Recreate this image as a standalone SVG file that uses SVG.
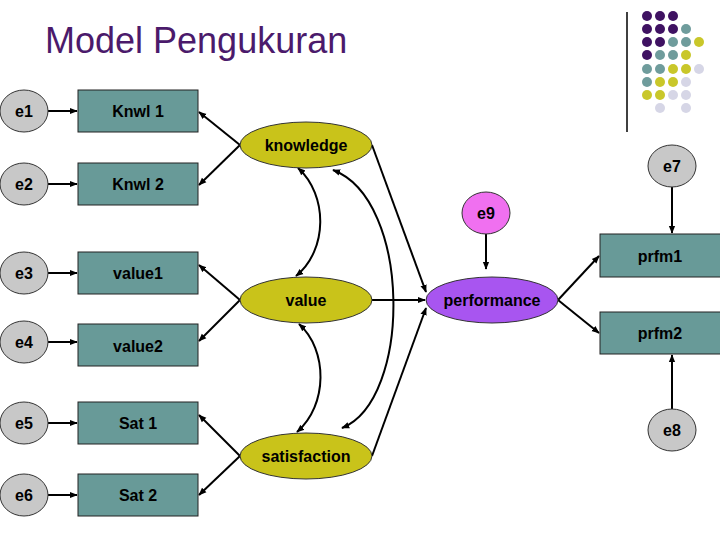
<svg xmlns="http://www.w3.org/2000/svg" width="720" height="540" viewBox="0 0 720 540">
<defs>
<style>
.t{font-family:"Liberation Sans",Arial,sans-serif;font-weight:bold;font-size:16px;fill:#000;text-anchor:middle;dominant-baseline:central}
.err{fill:#c8c8c8;stroke:#333;stroke-width:1}
.box{fill:#689a98;stroke:#222;stroke-width:1}
.lat{fill:#c9c31a;stroke:#333;stroke-width:1}
.c line,.c path{stroke:#000;stroke-width:2;fill:none}
.P{fill:#3f1262}.T{fill:#6f9c9c}.Y{fill:#c9c72a}.L{fill:#d6d6e6}
</style>
<marker id="a" viewBox="0 0 10 10" refX="9" refY="5" markerWidth="4" markerHeight="4" orient="auto-start-reverse"><path d="M0,1 L10,5 L0,9 z" fill="#000"/></marker>
</defs>
<rect width="720" height="540" fill="#fff"/>
<text x="45" y="53" font-family="Liberation Sans,Arial,sans-serif" font-size="36" fill="#4b1a6b">Model Pengukuran</text>
<line x1="627" y1="12" x2="627" y2="132" stroke="#000" stroke-width="1.5"/>
<g id="dots">
<circle class="P" cx="647" cy="16" r="5"/><circle class="P" cx="660" cy="16" r="5"/><circle class="P" cx="673" cy="16" r="5"/>
<circle class="P" cx="647" cy="29" r="5"/><circle class="P" cx="660" cy="29" r="5"/><circle class="P" cx="673" cy="29" r="5"/><circle class="T" cx="686" cy="29" r="5"/>
<circle class="P" cx="647" cy="42" r="5"/><circle class="P" cx="660" cy="42" r="5"/><circle class="T" cx="673" cy="42" r="5"/><circle class="T" cx="686" cy="42" r="5"/><circle class="Y" cx="699" cy="42" r="5"/>
<circle class="P" cx="647" cy="55" r="5"/><circle class="T" cx="660" cy="55" r="5"/><circle class="T" cx="673" cy="55" r="5"/><circle class="Y" cx="686" cy="55" r="5"/>
<circle class="T" cx="647" cy="69" r="5"/><circle class="T" cx="660" cy="69" r="5"/><circle class="Y" cx="673" cy="69" r="5"/><circle class="Y" cx="686" cy="69" r="5"/><circle class="L" cx="699" cy="69" r="5"/>
<circle class="T" cx="647" cy="82" r="5"/><circle class="Y" cx="660" cy="82" r="5"/><circle class="Y" cx="673" cy="82" r="5"/><circle class="L" cx="686" cy="82" r="5"/>
<circle class="Y" cx="647" cy="95" r="5"/><circle class="Y" cx="660" cy="95" r="5"/><circle class="L" cx="673" cy="95" r="5"/><circle class="L" cx="686" cy="95" r="5"/>
<circle class="L" cx="660" cy="108" r="5"/><circle class="L" cx="686" cy="108" r="5"/>
</g>
<g class="c" id="connectors">
<line x1="48" y1="111" x2="77" y2="111" marker-end="url(#a)"/>
<line x1="48" y1="184" x2="77" y2="184" marker-end="url(#a)"/>
<line x1="48" y1="273" x2="77" y2="273" marker-end="url(#a)"/>
<line x1="48" y1="342" x2="77" y2="342" marker-end="url(#a)"/>
<line x1="48" y1="423" x2="77" y2="423" marker-end="url(#a)"/>
<line x1="48" y1="495" x2="77" y2="495" marker-end="url(#a)"/>
<line x1="240" y1="145" x2="199" y2="112" marker-end="url(#a)"/>
<line x1="240" y1="145" x2="199" y2="185" marker-end="url(#a)"/>
<line x1="240" y1="300" x2="199" y2="265" marker-end="url(#a)"/>
<line x1="240" y1="300" x2="199" y2="341" marker-end="url(#a)"/>
<line x1="240" y1="456" x2="199" y2="415" marker-end="url(#a)"/>
<line x1="240" y1="456" x2="199" y2="495" marker-end="url(#a)"/>
<line x1="558" y1="300" x2="599" y2="256" marker-end="url(#a)"/>
<line x1="558" y1="300" x2="599" y2="333" marker-end="url(#a)"/>
<line x1="672" y1="187" x2="672" y2="233" marker-end="url(#a)"/>
<line x1="672" y1="409" x2="672" y2="355" marker-end="url(#a)"/>
<line x1="486" y1="234" x2="486" y2="269" marker-end="url(#a)"/>
<line x1="372" y1="145" x2="426" y2="292" marker-end="url(#a)"/>
<line x1="372" y1="300" x2="425" y2="300" marker-end="url(#a)"/>
<line x1="372" y1="456" x2="426" y2="308" marker-end="url(#a)"/>
<path d="M298,168 C328,195 328,250 296,276" marker-start="url(#a)" marker-end="url(#a)"/>
<path d="M299,324 C328,350 328,405 297,432" marker-start="url(#a)" marker-end="url(#a)"/>
<path d="M333,170 C412,200 412,400 342,428" marker-start="url(#a)" marker-end="url(#a)"/>
</g>
<g id="e1"><ellipse class="err" cx="24" cy="111" rx="24" ry="21"/><text class="t" x="24" y="111">e1</text></g>
<g id="e2"><ellipse class="err" cx="24" cy="184" rx="24" ry="21"/><text class="t" x="24" y="184">e2</text></g>
<g id="e3"><ellipse class="err" cx="24" cy="273" rx="24" ry="21"/><text class="t" x="24" y="273">e3</text></g>
<g id="e4"><ellipse class="err" cx="24" cy="342" rx="24" ry="21"/><text class="t" x="24" y="342">e4</text></g>
<g id="e5"><ellipse class="err" cx="24" cy="423" rx="24" ry="21"/><text class="t" x="24" y="423">e5</text></g>
<g id="e6"><ellipse class="err" cx="24" cy="495" rx="24" ry="21"/><text class="t" x="24" y="495">e6</text></g>
<g id="knwl1"><rect class="box" x="78" y="90" width="120" height="42"/><text class="t" x="138" y="111">Knwl 1</text></g>
<g id="knwl2"><rect class="box" x="78" y="163" width="120" height="42"/><text class="t" x="138" y="184">Knwl 2</text></g>
<g id="value1"><rect class="box" x="78" y="252" width="120" height="42"/><text class="t" x="138" y="273">value1</text></g>
<g id="value2"><rect class="box" x="78" y="324" width="120" height="42"/><text class="t" x="138" y="346">value2</text></g>
<g id="sat1"><rect class="box" x="78" y="402" width="120" height="42"/><text class="t" x="138" y="423">Sat 1</text></g>
<g id="sat2"><rect class="box" x="78" y="474" width="120" height="42"/><text class="t" x="138" y="495">Sat 2</text></g>
<g id="knowledge"><ellipse class="lat" cx="306" cy="145" rx="66" ry="23"/><text class="t" x="306" y="145">knowledge</text></g>
<g id="value"><ellipse class="lat" cx="306" cy="300" rx="66" ry="23"/><text class="t" x="306" y="300">value</text></g>
<g id="satisfaction"><ellipse class="lat" cx="306" cy="456" rx="66" ry="23"/><text class="t" x="306" y="456">satisfaction</text></g>
<g id="performance"><ellipse cx="492" cy="300" rx="66" ry="23" fill="#a855f0" stroke="#333"/><text class="t" x="492" y="300">performance</text></g>
<g id="e9"><ellipse cx="486" cy="213" rx="24" ry="21" fill="#f070f0" stroke="#333"/><text class="t" x="486" y="213">e9</text></g>
<g id="e7"><ellipse class="err" cx="672" cy="166" rx="24" ry="21"/><text class="t" x="672" y="166">e7</text></g>
<g id="e8"><ellipse class="err" cx="672" cy="430" rx="24" ry="21"/><text class="t" x="672" y="430">e8</text></g>
<g id="prfm1"><rect class="box" x="600" y="234" width="125" height="43"/><text class="t" x="660" y="256">prfm1</text></g>
<g id="prfm2"><rect class="box" x="600" y="312" width="125" height="42"/><text class="t" x="660" y="333">prfm2</text></g>
</svg>
